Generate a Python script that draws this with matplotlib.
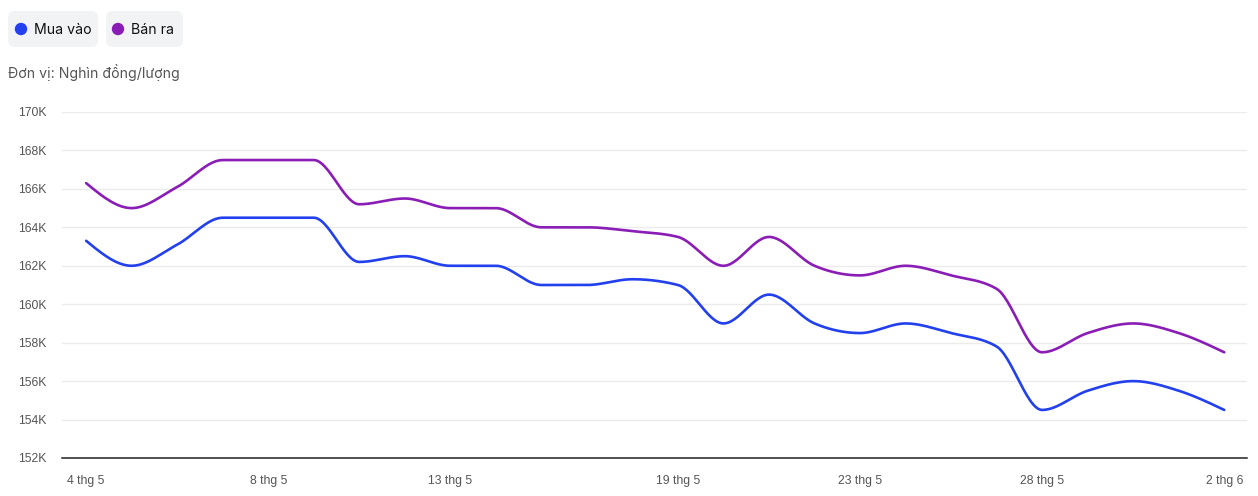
import numpy as np
import matplotlib
matplotlib.use("Agg")
import matplotlib.pyplot as plt
from matplotlib.patches import FancyBboxPatch

# dates on the category axis (Sundays missing)
dates = ["4 thg 5", "5 thg 5", "6 thg 5", "7 thg 5", "8 thg 5", "9 thg 5", "10 thg 5",
         "12 thg 5", "13 thg 5", "14 thg 5", "15 thg 5", "16 thg 5", "17 thg 5",
         "19 thg 5", "20 thg 5", "21 thg 5", "22 thg 5", "23 thg 5", "24 thg 5",
         "26 thg 5", "27 thg 5", "28 thg 5", "29 thg 5", "30 thg 5", "31 thg 5", "2 thg 6"]
tick_labels = ["4 thg 5", "8 thg 5", "13 thg 5", "19 thg 5", "23 thg 5", "28 thg 5", "2 thg 6"]

# values in thousand dong
buy = [163.3, 162.0, 163.1, 164.5, 164.5, 164.5, 162.2, 162.5, 162.0, 162.0, 161.0, 161.0, 161.3,
       161.0, 159.0, 160.5, 159.0, 158.5, 159.0, 158.5, 157.8, 154.5, 155.5, 156.0, 155.5, 154.5]
sell = [166.3, 165.0, 166.1, 167.5, 167.5, 167.5, 165.2, 165.5, 165.0, 165.0, 164.0, 164.0, 163.8,
        163.5, 162.0, 163.5, 162.0, 161.5, 162.0, 161.5, 160.8, 157.5, 158.5, 159.0, 158.5, 157.5]

BLUE = "#2340EE"
PURPLE = "#8A1DB5"


def monotone_x(x, y, n=30):
    # same smoothing as d3 curveMonotoneX
    x = np.asarray(x, float)
    y = np.asarray(y, float)
    h = np.diff(x)
    s = np.diff(y) / h
    t = np.zeros(len(x))
    for i in range(1, len(x) - 1):
        p = (s[i - 1] * h[i] + s[i] * h[i - 1]) / (h[i - 1] + h[i])
        t[i] = (np.sign(s[i - 1]) + np.sign(s[i])) * min(abs(s[i - 1]), abs(s[i]), 0.5 * abs(p))
    t[0] = (3 * s[0] - t[1]) / 2
    t[-1] = (3 * s[-1] - t[-2]) / 2
    xs, ys = [], []
    for i in range(len(x) - 1):
        u = np.linspace(0, 1, n, endpoint=(i == len(x) - 2))
        h00 = 2 * u**3 - 3 * u**2 + 1
        h10 = u**3 - 2 * u**2 + u
        h01 = -2 * u**3 + 3 * u**2
        h11 = u**3 - u**2
        xs.append(x[i] + u * h[i])
        ys.append(h00 * y[i] + h10 * h[i] * t[i] + h01 * y[i + 1] + h11 * h[i] * t[i + 1])
    return np.concatenate(xs), np.concatenate(ys)


W, H = 1258, 496
fig = plt.figure(figsize=(W / 100, H / 100), dpi=100)
ax = fig.add_axes([62 / W, 1 - 458 / H, (1247 - 62) / W, (458 - 112) / H])

xi = np.arange(len(dates))
for vals, col in [(buy, BLUE), (sell, PURPLE)]:
    sx, sy = monotone_x(xi, vals)
    ax.plot(sx, sy, color=col, lw=1.9, solid_capstyle="round", clip_on=False, zorder=3)

ax.set_xlim(-0.53, 25.5)
ax.set_ylim(152, 170)
yt = np.arange(152, 171, 2)
ax.set_yticks(yt)
ax.set_yticklabels([f"{v}K" for v in yt], fontfamily="Liberation Sans", fontsize=8.8, color="#555555")
ax.set_xticks([dates.index(d) for d in tick_labels])
ax.set_xticklabels(tick_labels, fontfamily="Liberation Sans", fontsize=8.8, color="#555555")
ax.tick_params(axis="y", length=0, pad=11)
ax.tick_params(axis="x", length=0, pad=12)
ax.grid(axis="y", color="#ebebeb", lw=1)
ax.set_axisbelow(True)
for sp in ["left", "right", "top"]:
    ax.spines[sp].set_visible(False)
ax.spines["bottom"].set_color("#222222")
ax.spines["bottom"].set_linewidth(1.1)
ax.spines["bottom"].set_zorder(4)

# legend pills, pixel coords from top-left
tr = fig.dpi_scale_trans
def box(x0, x1, y0, y1):
    fig.patches.append(FancyBboxPatch((x0 / 100, (H - y1) / 100), (x1 - x0) / 100, (y1 - y0) / 100,
                                      boxstyle="round,pad=0,rounding_size=0.07",
                                      fc="#f2f3f5", ec="none", transform=tr, figure=fig))

box(8, 98, 11, 47)
box(106, 183, 11, 47)
for cx, col, label in [(21, BLUE, "Mua vào"), (118, PURPLE, "Bán ra")]:
    fig.patches.append(plt.Circle((cx / 100, (H - 29) / 100), 0.062, fc=col, ec="none",
                                  transform=tr, figure=fig))
    fig.text((cx + 13) / 100, (H - 29.5) / 100, label, transform=tr, fontfamily="Inter",
             fontsize=10.2, color="#111111", va="center", ha="left")

fig.text(8 / 100, (H - 73) / 100, "Đơn vị: Nghìn đồng/lượng", transform=tr, fontfamily="Inter",
         fontsize=10.2, color="#555555", va="center", ha="left")

fig.savefig("out.png", dpi=100)
